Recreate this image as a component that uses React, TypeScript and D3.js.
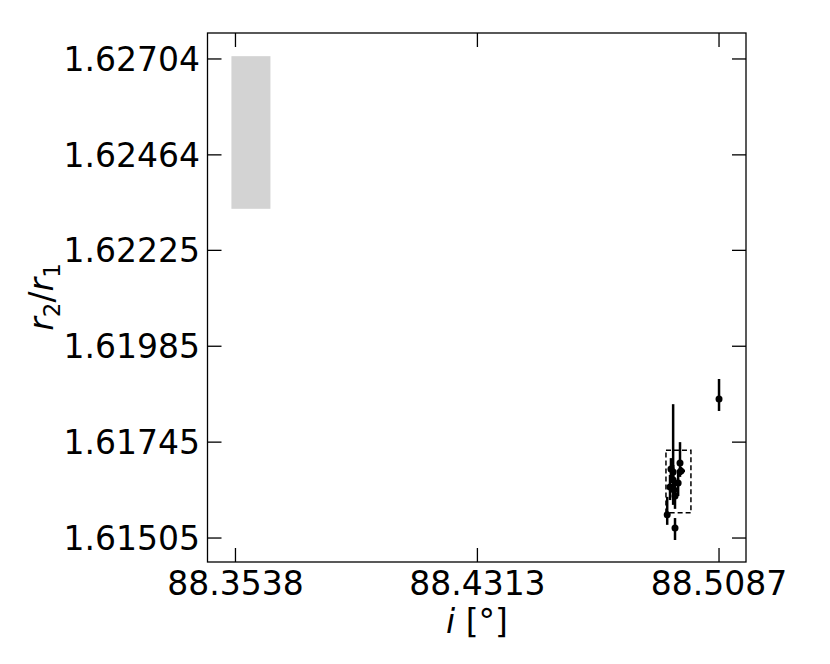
import React from "react";
import * as d3 from "d3";

const xTickValues = [88.3538, 88.4313, 88.5087];
const xTickLabels = ["88.3538", "88.4313", "88.5087"];
const yTickValues = [1.61505, 1.61745, 1.61985, 1.62225, 1.62464, 1.62704];
const yTickLabels = ["1.61505", "1.61745", "1.61985", "1.62225", "1.62464", "1.62704"];

// points: x, y, yLow, yHigh, xLow, xHigh
const ptX = [88.5087, 88.494, 88.4962, 88.4965, 88.4933, 88.493, 88.4956, 88.4946, 88.494, 88.4921, 88.4946, 88.4943];
const ptY = [1.61853, 1.6167, 1.61693, 1.61673, 1.61678, 1.61633, 1.61643, 1.6161, 1.6165, 1.61563, 1.6153, 1.61625];
const ptYLo = [1.61823, 1.61588, 1.61658, 1.61663, 1.61645, 1.616, 1.6161, 1.61578, 1.61615, 1.61538, 1.615, 1.61593];
const ptYHi = [1.61903, 1.6184, 1.61745, 1.61683, 1.61705, 1.61663, 1.61675, 1.61643, 1.61688, 1.61608, 1.61555, 1.61655];
const ptXLo = [88.5087, 88.494, 88.4962, 88.4952, 88.4933, 88.493, 88.4956, 88.4946, 88.494, 88.4921, 88.4946, 88.4943];
const ptXHi = [88.5087, 88.494, 88.4962, 88.4978, 88.4933, 88.493, 88.4956, 88.4946, 88.494, 88.4921, 88.4946, 88.4943];

const dashedBox = { x0: 88.4917, x1: 88.4997, y0: 1.61568, y1: 1.61725 };
const grayBox = { x0: 88.3525, x1: 88.365, y0: 1.62329, y1: 1.62711 };

export default function App() {
  const W = 830, H = 664;
  const L = 207.5, R = 746, T = 33, B = 562;
  const x = d3.scaleLinear().domain([88.34484, 88.51734]).range([L, R]);
  const y = d3.scaleLinear().domain([1.61445, 1.62769]).range([B, T]);
  const font = "DejaVu Sans";
  const tl = 14;

  return (
    <svg width={W} height={H} style={{ position: "absolute", left: 0, top: 0, background: "#fff" }}>
      <rect x={0} y={0} width={W} height={H} fill="#fff" />
      <rect
        x={x(grayBox.x0)}
        y={y(grayBox.y1)}
        width={x(grayBox.x1) - x(grayBox.x0)}
        height={y(grayBox.y0) - y(grayBox.y1)}
        fill="#d3d3d3"
      />
      <rect
        x={x(dashedBox.x0)}
        y={y(dashedBox.y1)}
        width={x(dashedBox.x1) - x(dashedBox.x0)}
        height={y(dashedBox.y0) - y(dashedBox.y1)}
        fill="none"
        stroke="#000"
        strokeWidth={1.5}
        strokeDasharray="5,3"
      />
      {ptX.map((px, i) => (
        <g key={i}>
          <line x1={x(px)} x2={x(px)} y1={y(ptYLo[i])} y2={y(ptYHi[i])} stroke="#000" strokeWidth={2.5} />
          {ptXHi[i] !== ptXLo[i] && (
            <line x1={x(ptXLo[i])} x2={x(ptXHi[i])} y1={y(ptY[i])} y2={y(ptY[i])} stroke="#000" strokeWidth={2.5} />
          )}
          <circle cx={x(px)} cy={y(ptY[i])} r={3.5} fill="#000" />
        </g>
      ))}
      <rect x={L} y={T} width={R - L} height={B - T} fill="none" stroke="#000" strokeWidth={1.3} />
      {xTickValues.map((v, i) => (
        <g key={"x" + i}>
          <line x1={x(v)} x2={x(v)} y1={B} y2={B - tl} stroke="#000" strokeWidth={1.3} />
          <line x1={x(v)} x2={x(v)} y1={T} y2={T + tl} stroke="#000" strokeWidth={1.3} />
          <text x={x(v)} y={595} textAnchor="middle" fontFamily={font} fontSize={33} fill="#000">
            {xTickLabels[i]}
          </text>
        </g>
      ))}
      {yTickValues.map((v, i) => (
        <g key={"y" + i}>
          <line x1={L} x2={L + tl} y1={y(v)} y2={y(v)} stroke="#000" strokeWidth={1.3} />
          <line x1={R} x2={R - tl} y1={y(v)} y2={y(v)} stroke="#000" strokeWidth={1.3} />
          <text x={200} y={y(v) + 12} textAnchor="end" fontFamily={font} fontSize={33} fill="#000">
            {yTickLabels[i]}
          </text>
        </g>
      ))}
      <text x={477} y={633} textAnchor="middle" fontFamily={font} fontSize={33} fill="#000">
        <tspan fontStyle="italic">i</tspan>
        <tspan> [°]</tspan>
      </text>
      <text
        transform="translate(53,297) rotate(-90)"
        textAnchor="middle"
        fontFamily={font}
        fontSize={33}
        fill="#000"
      >
        <tspan fontStyle="italic">r</tspan>
        <tspan fontSize={23} dy={7}>2</tspan>
        <tspan dy={-7}>/</tspan>
        <tspan fontStyle="italic">r</tspan>
        <tspan fontSize={23} dy={7}>1</tspan>
      </text>
    </svg>
  );
}
